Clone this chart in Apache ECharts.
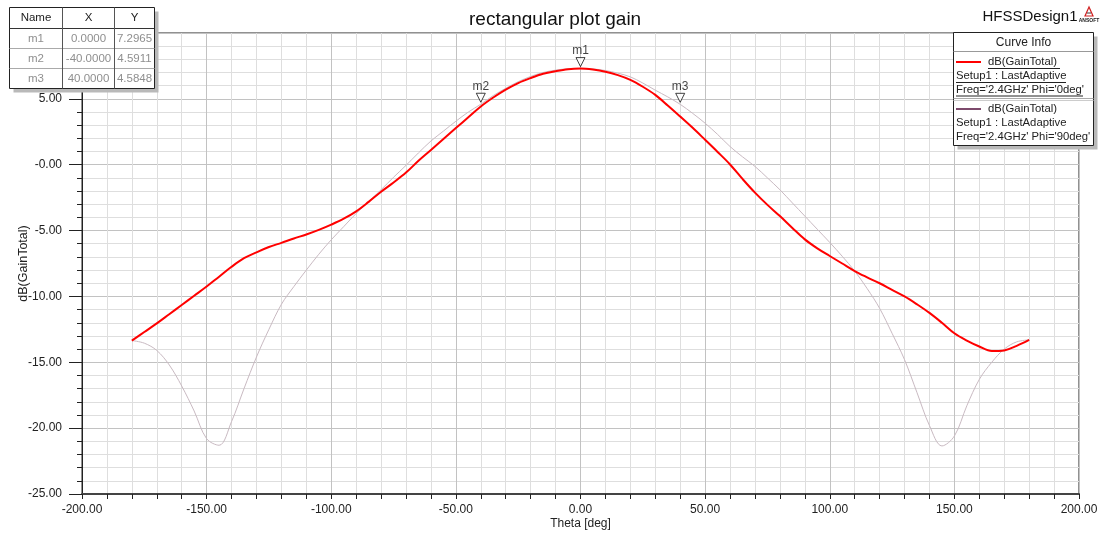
<!DOCTYPE html>
<html>
<head>
<meta charset="utf-8">
<script src="https://cdn.jsdelivr.net/npm/echarts@6/dist/echarts.min.js"></script>
<style>
html,body{margin:0;padding:0;background:#fff;}
#chart{width:1104px;height:533px;}
</style>
</head>
<body>
<div id="chart"></div>
<script>
// ---- data ----
var theta = [-180,-175,-170,-165,-160,-155,-150,-145,-140,-135,-130,-125,-120,-115,-110,-105,-100,-95,-90,-85,-80,-75,-70,-65,-60,-55,-50,-45,-40,-35,-30,-25,-20,-15,-10,-5,0,5,10,15,20,25,30,35,40,45,50,55,60,65,70,75,80,85,90,95,100,105,110,115,120,125,130,135,140,145,150,155,160,165,170,175,180];
// dB(GainTotal), Phi = 0deg (red)
var gainPhi0 = [-13.35,-12.7,-12.05,-11.35,-10.65,-9.95,-9.25,-8.5,-7.75,-7.1,-6.65,-6.25,-5.93,-5.6,-5.3,-4.95,-4.55,-4.1,-3.54,-2.82,-2.05,-1.35,-0.6,0.3,1.12,1.95,2.78,3.6,4.42,5.1,5.7,6.2,6.58,6.9,7.1,7.25,7.2965,7.22,7.06,6.8,6.44,5.92,5.3,4.5,3.66,2.8,1.89,0.97,0.02,-1.08,-2.12,-3.05,-3.9,-4.8,-5.67,-6.35,-6.93,-7.5,-8.07,-8.55,-9.0,-9.5,-10.0,-10.6,-11.25,-12.0,-12.8,-13.35,-13.8,-14.15,-14.1,-13.75,-13.3];
// dB(GainTotal), Phi = 90deg (grey)
var gainPhi90 = [-13.35,-13.55,-14.1,-15.2,-16.8,-18.7,-20.8,-21.3,-19.5,-17.0,-14.6,-12.5,-10.6,-9.25,-8.0,-6.8,-5.7,-4.7,-3.7,-2.8,-1.9,-0.95,-0.05,0.9,1.8,2.55,3.3,4.0,4.5911,5.25,5.8,6.3,6.7,7.0,7.18,7.28,7.2965,7.27,7.15,6.95,6.67,6.2,5.66,5.15,4.5848,3.9,3.15,2.3,1.38,0.6,-0.13,-1.0,-1.9,-2.9,-3.9,-4.9,-5.9,-6.95,-8.07,-9.4,-10.9,-12.8,-14.8,-17.3,-19.8,-21.35,-20.6,-18.3,-16.3,-15.0,-14.0,-13.45,-13.3];
// markers
var markerNames = ['m1','m2','m3'];
var markerX = [0,-40,40];
var markerY = [7.2965,4.5911,4.5848];

var FONT = 'Liberation Sans, Arial, sans-serif';

function pairs(xs, ys){ var o=[]; for(var i=0;i<xs.length;i++){o.push([xs[i],ys[i]]);} return o; }

var chart = echarts.init(document.getElementById('chart'), null, {renderer:'canvas'});

var graphics = [];
// ----- marker table (top-left) -----
var tX=9.5, tY=7.5, tW=145, tH=81;
graphics.push({type:'rect', shape:{x:tX+4,y:tY+4,width:tW,height:tH}, style:{fill:'#b9b9b9'}, z:100});
graphics.push({type:'rect', shape:{x:tX,y:tY,width:tW,height:tH}, style:{fill:'#fff',stroke:'#222',lineWidth:1}, z:101});
graphics.push({type:'line', shape:{x1:tX,y1:28.5,x2:tX+tW,y2:28.5}, style:{stroke:'#333',lineWidth:1}, z:102});
graphics.push({type:'line', shape:{x1:tX,y1:48.5,x2:tX+tW,y2:48.5}, style:{stroke:'#aaa',lineWidth:1}, z:102});
graphics.push({type:'line', shape:{x1:tX,y1:68.5,x2:tX+tW,y2:68.5}, style:{stroke:'#aaa',lineWidth:1}, z:102});
graphics.push({type:'line', shape:{x1:62.5,y1:tY,x2:62.5,y2:tY+tH}, style:{stroke:'#555',lineWidth:1}, z:102});
graphics.push({type:'line', shape:{x1:114.5,y1:tY,x2:114.5,y2:tY+tH}, style:{stroke:'#555',lineWidth:1}, z:102});
var colC=[36,88.5,134.5];
['Name','X','Y'].forEach(function(h,i){
  graphics.push({type:'text', x:colC[i], y:18, style:{text:h, font:'11.5px '+FONT, fill:'#222', align:'center', verticalAlign:'middle'}, z:103});
});
for (var r=0;r<markerNames.length;r++){
  var cy = 38.5 + r*20;
  var cells=[markerNames[r], markerX[r].toFixed(4), markerY[r].toFixed(4)];
  for (var c=0;c<3;c++){
    graphics.push({type:'text', x:colC[c], y:cy, style:{text:cells[c], font:'11.5px '+FONT, fill:'#8f8f8f', align:'center', verticalAlign:'middle'}, z:103});
  }
}
// ----- Curve Info legend (top-right) -----
var lX=953.5, lY=32.5, lW=140, lH=113;
graphics.push({type:'rect', shape:{x:lX+4,y:lY+4,width:lW,height:lH}, style:{fill:'#b9b9b9'}, z:100});
graphics.push({type:'rect', shape:{x:lX,y:lY,width:lW,height:lH}, style:{fill:'#fff',stroke:'#222',lineWidth:1}, z:101});
graphics.push({type:'text', x:lX+lW/2, y:43, style:{text:'Curve Info', font:'12px '+FONT, fill:'#222', align:'center', verticalAlign:'middle'}, z:103});
graphics.push({type:'line', shape:{x1:lX,y1:51.5,x2:lX+lW,y2:51.5}, style:{stroke:'#999',lineWidth:1}, z:102});
graphics.push({type:'line', shape:{x1:lX,y1:98.5,x2:lX+lW,y2:98.5}, style:{stroke:'#aaa',lineWidth:1}, z:102});
graphics.push({type:'line', shape:{x1:lX,y1:100.5,x2:lX+lW,y2:100.5}, style:{stroke:'#ccc',lineWidth:1}, z:102});
var entries = [
  {y:62, color:'#ff0000', lines:['Setup1 : LastAdaptive',"Freq='2.4GHz' Phi='0deg'"], underline:true},
  {y:109, color:'#7d4a6c', lines:['Setup1 : LastAdaptive',"Freq='2.4GHz' Phi='90deg'"], underline:false}
];
entries.forEach(function(e){
  graphics.push({type:'line', shape:{x1:956,y1:e.y,x2:981,y2:e.y}, style:{stroke:e.color,lineWidth:2}, z:103});
  graphics.push({type:'text', x:988, y:e.y, style:{text:'dB(GainTotal)', font:'11.3px '+FONT, fill:'#222', verticalAlign:'middle'}, z:103});
  if(e.underline) graphics.push({type:'line', shape:{x1:988,y1:e.y+6.5,x2:1060,y2:e.y+6.5}, style:{stroke:'#222',lineWidth:1}, z:103});
  e.lines.forEach(function(t,i){
    var yy = e.y + 14 + i*13.5;
    graphics.push({type:'text', x:956, y:yy, style:{text:t, font:'11.3px '+FONT, fill:'#222', verticalAlign:'middle'}, z:103});
    if(e.underline) graphics.push({type:'line', shape:{x1:956,y1:yy+6.5,x2:956+(i===0?110:127),y2:yy+6.5}, style:{stroke:'#222',lineWidth:1}, z:103});
  });
});
// ----- Header texts -----
graphics.push({type:'text', x:1030, y:17, style:{text:'HFSSDesign1', font:'15px '+FONT, fill:'#111', align:'center', verticalAlign:'middle'}, z:103});
graphics.push({type:'polygon', shape:{points:[[1089,7],[1085,16],[1093,16]]}, style:{fill:'none', stroke:'#d02020', lineWidth:1.2}, z:103});
graphics.push({type:'line', shape:{x1:1087,y1:13,x2:1091,y2:13}, style:{stroke:'#333',lineWidth:1}, z:103});
graphics.push({type:'text', x:1089, y:21, style:{text:'ANSOFT', font:'bold 5px '+FONT, fill:'#222', align:'center', verticalAlign:'middle'}, z:103});

var option = {
  animation: false,
  backgroundColor: '#ffffff',
  title: {
    text: 'rectangular plot gain', left: 464, top: 5,
    textStyle: {fontFamily: FONT, fontSize: 19, fontWeight: 'normal', color: '#111'}
  },
  grid: {left: 82, top: 33, right: 25, bottom: 39, show: true, borderColor: '#222', borderWidth: 1,
    backgroundColor: 'transparent', containLabel: false, outerBoundsMode: 'none'},
  xAxis: {
    type: 'value', min: -200, max: 200, interval: 50,
    name: 'Theta [deg]', nameLocation: 'middle', nameGap: 24, nameMoveOverlap: false,
    nameTextStyle: {fontFamily: FONT, fontSize: 12, color: '#222'},
    axisLine: {show: true, onZero: false, lineStyle: {color: '#444', width: 2}},
    axisTick: {show: true, length: 5, lineStyle: {color: '#222'}},
    minorTick: {show: true, splitNumber: 5, length: 5, lineStyle: {color: '#222'}},
    splitLine: {show: true, lineStyle: {color: '#c2c2c2', width: 1}},
    minorSplitLine: {show: true, lineStyle: {color: '#dedede', width: 1}},
    axisLabel: {fontFamily: FONT, fontSize: 12, color: '#222', margin: 10, showMinLabel: true, showMaxLabel: true, hideOverlap: false,
      formatter: function(v){ return v.toFixed(2); }}
  },
  yAxis: {
    type: 'value', min: -25, max: 10, interval: 5,
    name: 'dB(GainTotal)', nameLocation: 'middle', nameGap: 52, nameMoveOverlap: false,
    nameTextStyle: {fontFamily: FONT, fontSize: 12.5, color: '#222'},
    axisLine: {show: true, onZero: false, lineStyle: {color: '#222', width: 1}},
    axisTick: {show: true, length: 13, lineStyle: {color: '#222'}},
    minorTick: {show: true, splitNumber: 5, length: 5, lineStyle: {color: '#222'}},
    splitLine: {show: true, lineStyle: {color: '#c2c2c2', width: 1}},
    minorSplitLine: {show: true, lineStyle: {color: '#dedede', width: 1}},
    axisLabel: {fontFamily: FONT, fontSize: 12, color: '#222', margin: 20, showMinLabel: true, showMaxLabel: true, hideOverlap: false,
      formatter: function(v){ if (v === 10) return ''; if (v === 0) return '-0.00'; return v.toFixed(2); }}
  },
  series: [
    {
      name: "Phi='90deg'", type: 'line', data: pairs(theta, gainPhi90),
      showSymbol: false, smooth: 0.35, lineStyle: {color: '#c9bac2', width: 1}, z: 2
    },
    {
      name: "Phi='0deg'", type: 'line', data: pairs(theta, gainPhi0),
      showSymbol: false, smooth: 0.35, lineStyle: {color: '#ff0000', width: 2}, z: 3
    },
    {
      name: 'markers', type: 'scatter', z: 4,
      data: markerX.map(function(x,i){ return {name: markerNames[i], value: [x, markerY[i]]}; }),
      symbol: 'path://M0,0 L10,0 L5,10 Z', symbolSize: [9, 9], symbolOffset: [0, -6.5],
      itemStyle: {color: '#ffffff', borderColor: '#111', borderWidth: 1},
      label: {show: true, position: 'top', distance: 2, offset: [0, 2], formatter: '{b}', fontFamily: FONT, fontSize: 12, color: '#111'}
    }
  ],
  graphic: graphics
};
chart.setOption(option);
</script>
</body>
</html>
